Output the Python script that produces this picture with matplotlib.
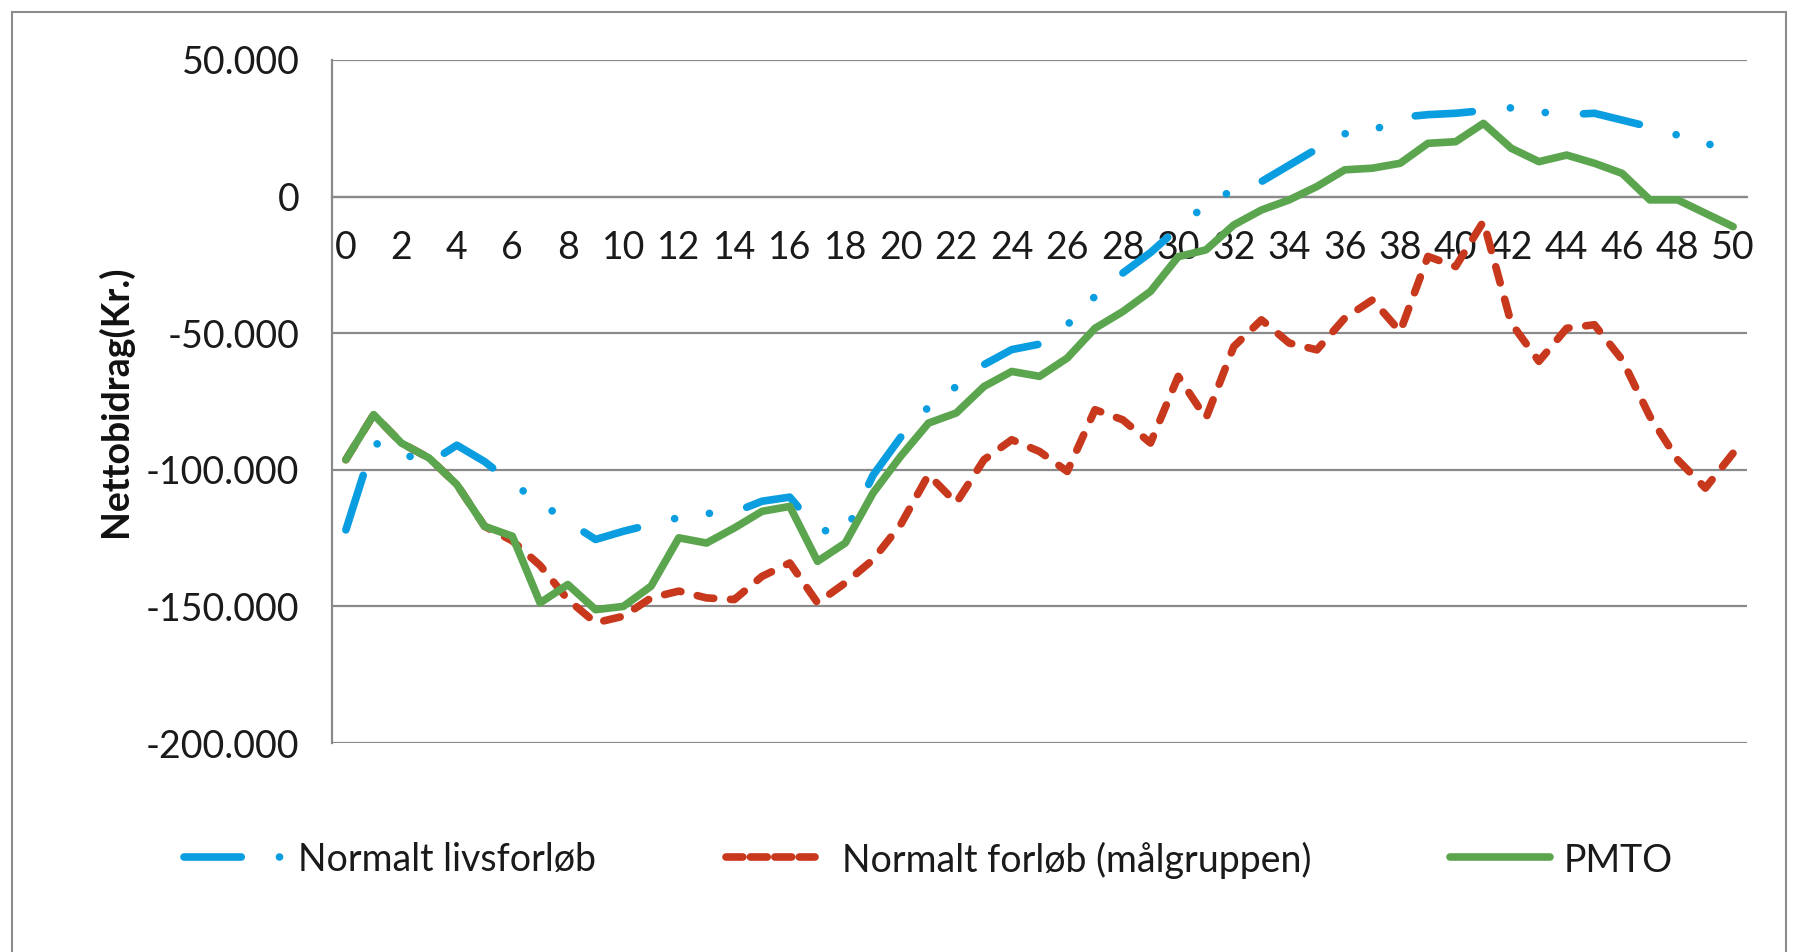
import matplotlib
matplotlib.use('Agg')
import matplotlib.pyplot as plt
from matplotlib.patches import Rectangle
from matplotlib.lines import Line2D

# ---------------- data ----------------
years = list(range(51))
normalt_livsforloeb = [
    -122000, -90000, -94000, -97500, -91000, -97000, -105000, -112000, -119000, -125500,
    -122500, -120000, -117500, -116000, -115500, -111500, -110000, -122000, -123000, -102000,
    -88000, -77000, -69500, -61500, -56000, -54000, -47000, -36500, -28000, -20500,
    -11500, -3000, 2500, 5500, 11500, 17500, 23000, 24000, 29000, 30000,
    30500, 31500, 32500, 31000, 30000, 30500, 28000, 25500, 22500, 19500,
    17000]
normalt_maalgruppen = [
    -96300, -79800, -90200, -95700, -105400, -120700, -126000, -135000, -147500, -156000,
    -153600, -146900, -144400, -146900, -147500, -139000, -134100, -148700, -141400, -132900,
    -120000, -101800, -112100, -96300, -89000, -93300, -100600, -78000, -81700, -90200,
    -65800, -81100, -54900, -45100, -53600, -56100, -44500, -37800, -49400, -21900,
    -25600, -9100, -46300, -60300, -48200, -46900, -59700, -80500, -96300, -106700,
    -93900]
pmto = [
    -96300, -79800, -90200, -95700, -105400, -120700, -124300, -148700, -142000, -151200,
    -150000, -142600, -124900, -126800, -121300, -115200, -113400, -133500, -126800, -108500,
    -95000, -82900, -79200, -69500, -64000, -65800, -59100, -48200, -42100, -34700,
    -22000, -19500, -10400, -4900, -1200, 3700, 9800, 10400, 12200, 19500,
    20100, 26800, 17700, 12800, 15200, 12200, 8500, -1200, -1200, -6100,
    -11000]
series_names = ['Normalt livsforløb', 'Normalt forløb (målgruppen)', 'PMTO']
ytick_vals = [50000, 0, -50000, -100000, -150000, -200000]
ytick_labels = ['50.000', '0', '-50.000', '-100.000', '-150.000', '-200.000']
xtick_vals = list(range(0, 51, 2))
y_label = 'Nettobidrag(Kr.)'

# ---------------- style ----------------
plt.rcParams['font.family'] = ['Lato', 'DejaVu Sans']
W, H = 1797, 952
fig = plt.figure(figsize=(W / 100, H / 100), dpi=100)
fig.patch.set_facecolor('white')

grid_col = '#8a8a8a'
blue, red, green = '#0a9de0', '#c8381c', '#5ca54f'
lw = 5.5
fs = 27
txt_col = '#1a1a1a'
blue_dash = (7.5, 5, 0.01, 4.6, 0.01, 5)
red_dash = (2.2, 2.2)

ax = fig.add_axes([332 / W, 1 - 743 / H, (1747 - 332) / W, (743 - 60) / H])
ax.set_xlim(-0.5, 50.5)
ax.set_ylim(-200000, 50000)

for v in ytick_vals:
    ax.axhline(v, color=grid_col, lw=1.6, zorder=1)

for s in ['top', 'right']:
    ax.spines[s].set_visible(False)
ax.spines['left'].set_color(grid_col)
ax.spines['left'].set_linewidth(1.6)
ax.spines['bottom'].set_position(('data', 0))
ax.spines['bottom'].set_color(grid_col)
ax.spines['bottom'].set_linewidth(1.6)

ax.set_yticks(ytick_vals)
ax.set_yticklabels(ytick_labels)
ax.set_xticks(xtick_vals)
ax.set_xticklabels([str(v) for v in xtick_vals])
ax.tick_params(axis='y', length=0, pad=23.5, labelsize=fs, labelcolor=txt_col)
ax.tick_params(axis='x', length=0, pad=24, labelsize=fs, labelcolor=txt_col)

ax.plot(years, normalt_livsforloeb, color=blue, lw=lw, dash_capstyle='round',
        dashes=blue_dash, zorder=3)
ax.plot(years, normalt_maalgruppen, color=red, lw=lw, dash_capstyle='round',
        dashes=red_dash, zorder=4)
ax.plot(years, pmto, color=green, lw=lw, solid_capstyle='round',
        solid_joinstyle='round', zorder=5)

fig.text(115 / W, 1 - 401 / H, y_label, rotation=90, fontsize=27, fontweight='bold',
         ha='center', va='center', color='#111111')

# ---------------- legend (manual placement) ----------------
leg_y = 1 - 857 / H
leg_items = [
    (series_names[0], blue, dict(dashes=blue_dash, dash_capstyle='round'), 184, 281, 298),
    (series_names[1], red, dict(dashes=(2.2, 1.0), dash_capstyle='round'), 726, 815, 842),
    (series_names[2], green, dict(solid_capstyle='round'), 1450, 1550, 1564),
]
for name, col, kw, x0, x1, xt in leg_items:
    fig.add_artist(Line2D([x0 / W, x1 / W], [leg_y, leg_y], transform=fig.transFigure,
                          color=col, lw=lw, **kw))
    fig.text(xt / W, leg_y, name, fontsize=fs, color=txt_col, ha='left', va='center_baseline')

fig.patches.append(Rectangle((12 / W, -0.1), (1786 - 12) / W, 1 - 12 / H + 0.1,
                             transform=fig.transFigure, fill=False,
                             edgecolor='#8c8c8c', lw=1.5))

fig.savefig('out.png', dpi=100, facecolor='white')
